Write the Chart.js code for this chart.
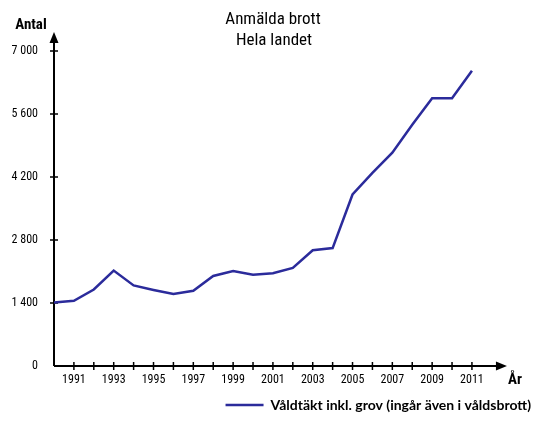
<!DOCTYPE html>
<html>
<head>
<meta charset="utf-8">
<script src="https://cdn.jsdelivr.net/npm/chart.js@4.4.0/dist/chart.umd.min.js"></script>
<style>
  body { margin: 0; background: #fff; }
  #wrap { width: 541px; height: 445px; position: relative; }
</style>
</head>
<body>
<div id="wrap"><canvas id="brott"></canvas></div>
<script>
// Data
const years = [1990, 1991, 1992, 1993, 1994, 1995, 1996, 1997, 1998, 1999, 2000,
               2001, 2002, 2003, 2004, 2005, 2006, 2007, 2008, 2009, 2010, 2011];
const valdtakt = [1410, 1450, 1700, 2120, 1790, 1690, 1600, 1670, 2000, 2110, 2030,
                  2060, 2180, 2570, 2620, 3810, 4290, 4740, 5360, 5950, 5950, 6560];
const yTicks = [0, 1400, 2800, 4200, 5600, 7000];
const xLabels = [1991, 1993, 1995, 1997, 1999, 2001, 2003, 2005, 2007, 2009, 2011];
const seriesName = 'Våldtäkt inkl. grov (ingår även i våldsbrott)';
const titleLines = ['Anmälda brott', 'Hela landet'];

const narrow = "'Roboto Condensed', 'DejaVu Sans Condensed', sans-serif";
const lineColor = '#2b2b9b';

// Axlar med pilar, streck och texter
const axisPlugin = {
    id: 'axisPlugin',
    beforeDatasetsDraw(chart) {
        const ctx = chart.ctx;
        const x = chart.scales.x;
        const y = chart.scales.y;
        const x0 = x.getPixelForValue(1990);
        const y0 = y.getPixelForValue(0);
        const xEnd = x.getPixelForValue(2012.76);
        const yEnd = chart.chartArea.top;

        ctx.save();
        ctx.strokeStyle = '#000';
        ctx.fillStyle = '#000';
        ctx.lineWidth = 2;
        ctx.beginPath();
        ctx.moveTo(x0, y0);
        ctx.lineTo(xEnd - 6, y0);
        ctx.moveTo(x0, y0);
        ctx.lineTo(x0, yEnd + 6);
        ctx.stroke();

        // pilar
        ctx.beginPath();
        ctx.moveTo(xEnd, y0);
        ctx.lineTo(xEnd - 11, y0 - 4.5);
        ctx.lineTo(xEnd - 11, y0 + 4.5);
        ctx.closePath();
        ctx.fill();
        ctx.beginPath();
        ctx.moveTo(x0, yEnd);
        ctx.lineTo(x0 - 4.5, yEnd + 11);
        ctx.lineTo(x0 + 4.5, yEnd + 11);
        ctx.closePath();
        ctx.fill();

        // streck
        ctx.lineWidth = 1.5;
        ctx.beginPath();
        for (let yr = 1991; yr <= 2011; yr++) {
            const px = x.getPixelForValue(yr);
            ctx.moveTo(px, y0 - 4);
            ctx.lineTo(px, y0 + 4);
        }
        yTicks.slice(1).forEach(v => {
            const py = y.getPixelForValue(v);
            ctx.moveTo(x0 - 4, py);
            ctx.lineTo(x0 + 4, py);
        });
        ctx.stroke();

        // rubrik
        ctx.textAlign = 'center';
        ctx.textBaseline = 'middle';
        ctx.font = '17px ' + narrow;
        ctx.fillText(titleLines[0], 273, 20);
        ctx.fillText(titleLines[1], 274, 41);

        ctx.font = 'bold 15px ' + narrow;
        ctx.fillText('Antal', 31, 25);
        ctx.fillText('År', 515, 380);
        ctx.restore();
    }
};

const ctx = document.getElementById('brott').getContext('2d');
const chart = new Chart(ctx, {
    type: 'line',
    data: {
        datasets: [{
            label: seriesName,
            data: years.map((yr, i) => ({ x: yr, y: valdtakt[i] })),
            borderColor: lineColor,
            backgroundColor: lineColor,
            borderWidth: 2.5,
            pointRadius: 0,
            tension: 0,
            fill: false
        }]
    },
    options: {
        responsive: true,
        maintainAspectRatio: false,
        animation: false,
        layout: { padding: { top: 32, right: 0, left: 0, bottom: 23 } },
        plugins: {
            title: { display: false },
            tooltip: { enabled: false },
            legend: {
                display: true,
                position: 'bottom',
                align: 'end',
                labels: {
                    usePointStyle: true,
                    pointStyle: 'line',
                    pointStyleWidth: 38,
                    color: '#000',
                    padding: 10,
                    font: { family: "'Lato', sans-serif", size: 14, weight: 'bold' }
                }
            }
        },
        scales: {
            x: {
                type: 'linear',
                min: 1990,
                max: 2014.47,
                border: { display: false },
                grid: { display: false, drawTicks: false },
                afterFit(scale) { scale.height = 22; },
                afterBuildTicks(scale) {
                    scale.ticks = xLabels.map(v => ({ value: v }));
                },
                ticks: {
                    autoSkip: false,
                    maxRotation: 0,
                    padding: 7,
                    color: '#000',
                    font: { family: narrow, size: 12 },
                    callback: v => String(v)
                }
            },
            y: {
                min: 0,
                max: 7420,
                border: { display: false },
                grid: { display: false, drawTicks: false },
                afterFit(scale) { scale.width = 54; },
                afterBuildTicks(scale) {
                    scale.ticks = yTicks.map(v => ({ value: v }));
                },
                ticks: {
                    padding: 16,
                    color: '#000',
                    font: { family: narrow, size: 12 },
                    callback: v => v >= 1000
                        ? Math.floor(v / 1000) + ' ' + String(v % 1000).padStart(3, '0')
                        : String(v)
                }
            }
        }
    },
    plugins: [axisPlugin]
});
</script>
</body>
</html>
